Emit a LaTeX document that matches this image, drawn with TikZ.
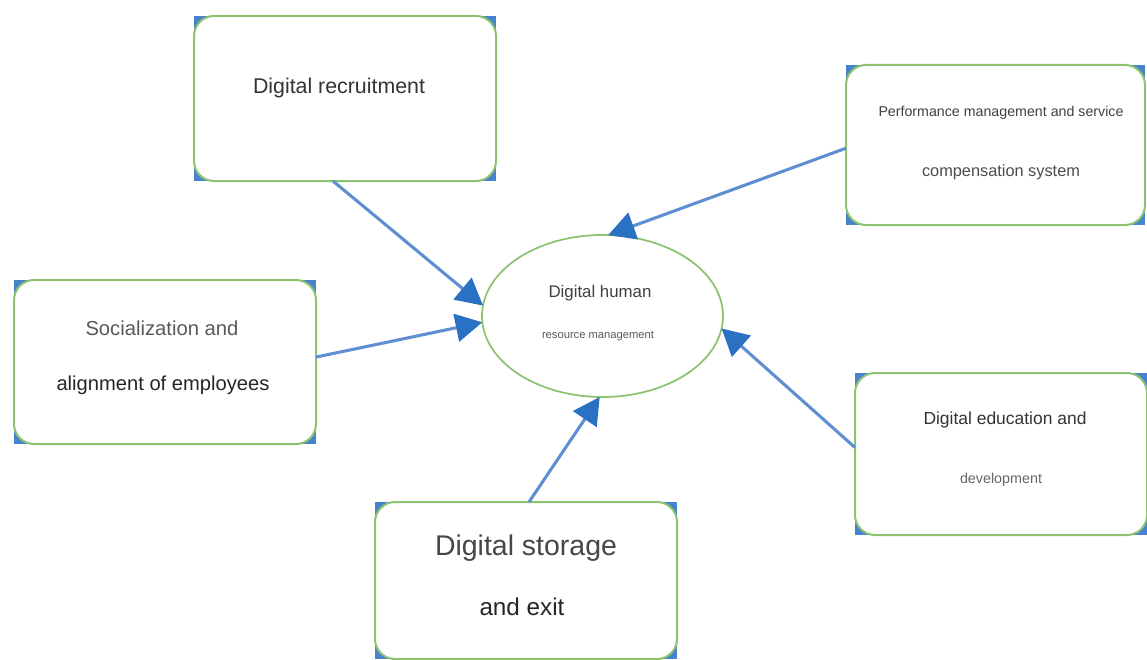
\documentclass[tikz,border=0pt]{standalone}
\usepackage{fontspec}
\setmainfont{Liberation Sans}
\usetikzlibrary{arrows.meta,calc,backgrounds,shapes.geometric}
\definecolor{boxgreen}{RGB}{141,194,112}
\definecolor{cornerblue}{RGB}{70,130,205}
\definecolor{linkblue}{RGB}{95,143,208}
\definecolor{tipblue}{RGB}{42,112,195}
\newlength\fitlen
\newcommand\fitto[2]{%
  \settowidth\fitlen{\fontsize{10pt}{12pt}\selectfont #2}%
  \pgfmathsetmacro\fitsz{7.5*#1/\fitlen}%
  \fontsize{\fitsz pt}{\fitsz pt}\selectfont #2}
\tikzset{
  box/.style={rectangle, draw=boxgreen, fill=white, line width=1.5pt,
    rounded corners=15pt, inner sep=0pt, outer sep=0pt},
  hub/.style={ellipse, draw=boxgreen, fill=white, line width=1.3pt,
    inner sep=0pt, outer sep=0pt, minimum width=241*0.75pt, minimum height=162*0.75pt},
  txt/.style={inner sep=0pt, anchor=center},
  link/.style={draw=linkblue, line width=2.3pt,
    -{Triangle[length=20pt,width=21pt,color=tipblue]}}
}
\begin{document}
\begin{tikzpicture}[x=0.75pt,y=-0.75pt]
\useasboundingbox (0,0) rectangle (1147,660);
% boxes
\node[box, minimum width=302*0.75pt, minimum height=165*0.75pt] (rec) at (345,98.5) {};
\node[box, minimum width=302*0.75pt, minimum height=164*0.75pt] (soc) at (165,362) {};
\node[box, minimum width=299*0.75pt, minimum height=160*0.75pt] (perf) at (995.5,145) {};
\node[box, minimum width=292*0.75pt, minimum height=162*0.75pt] (edu) at (1001,454) {};
\node[box, minimum width=302*0.75pt, minimum height=157*0.75pt] (sto) at (526,580.5) {};
\node[hub] (hr) at (602.5,316) {};
% blue corner marks behind boxes
\begin{scope}[on background layer]
  \foreach \b in {rec,soc,perf,edu,sto}
    \fill[cornerblue] (\b.south west) rectangle (\b.north east);
\end{scope}
% texts
\node[txt, text=black!80] (t1) at (339,88) {\fitto{172}{Digital recruitment}};
\node[txt, text=black!65] (t2a) at (162,328) {\fitto{153}{Socialization and}};
\node[txt, text=black!85] (t2b) at (163,385) {\fitto{213}{alignment of employees}};
\node[txt, text=black!75] (t3a) at (1001,113) {\fitto{245}{Performance management and service}};
\node[txt, text=black!70] (t3b) at (1001,172) {\fitto{158}{compensation system}};
\node[txt, text=black!80] (t4a) at (1005,420) {\fitto{163}{Digital education and}};
\node[txt, text=black!60] (t4b) at (1001,480) {\fitto{82}{development}};
\node[txt, text=black!72] (t5a) at (526,548) {\fitto{182}{Digital storage}};
\node[txt, text=black!85] (t5b) at (522,607) {\fitto{85}{and exit}};
\node[txt, text=black!75] (t6a) at (600,293) {\fitto{103}{Digital human}};
\node[txt, text=black!65] (t6b) at (598,336) {\fitto{112}{resource management}};
% connectors
\draw[link] ($(rec.south west)!0.46!(rec.south east)$) -- (hr.175);
\draw[link] ($(soc.north east)!0.47!(soc.south east)$) -- (hr.183);
\draw[link] ($(perf.north west)!0.52!(perf.south west)$) -- (hr.86);
\draw[link] ($(edu.north west)!0.46!(edu.south west)$) -- (hr.354);
\draw[link] ($(sto.north west)!0.51!(sto.north east)$) -- (hr.268);
\end{tikzpicture}
\end{document}
